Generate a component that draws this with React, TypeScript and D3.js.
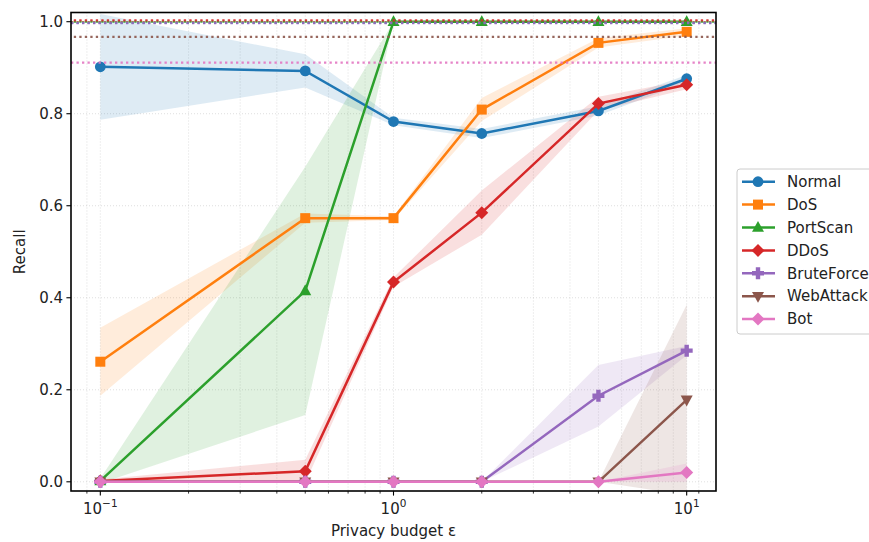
import React from "react";
import * as d3 from "d3";

const epsilons = [0.1, 0.5, 1, 2, 5, 10];
const classNames = ["Normal", "DoS", "PortScan", "DDoS", "BruteForce", "WebAttack", "Bot"];
const colors = ["#1f77b4", "#ff7f0e", "#2ca02c", "#d62728", "#9467bd", "#8c564b", "#e377c2"];
const markers = ["circle", "square", "triangle", "diamond", "plus", "triangleDown", "diamond"];

const normalMean = [0.902, 0.893, 0.783, 0.757, 0.806, 0.876];
const normalStd = [0.115, 0.036, 0.008, 0.01, 0.01, 0.008];
const dosMean = [0.261, 0.573, 0.573, 0.809, 0.954, 0.978];
const dosStd = [0.074, 0.01, 0.004, 0.025, 0.01, 0.008];
const portScanMean = [0.002, 0.415, 1.0, 1.0, 1.0, 1.0];
const portScanStd = [0.005, 0.27, 0.0, 0.0, 0.0, 0.0];
const ddosMean = [0.002, 0.023, 0.434, 0.585, 0.822, 0.863];
const ddosStd = [0.003, 0.025, 0.01, 0.048, 0.015, 0.01];
const bruteMean = [0.0, 0.0, 0.0, 0.0, 0.187, 0.285];
const bruteStd = [0.0, 0.0, 0.0, 0.0, 0.067, 0.01];
const webMean = [0.0, 0.0, 0.0, 0.0, 0.0, 0.178];
const webStd = [0.0, 0.0, 0.0, 0.0, 0.0, 0.207];
const botMean = [0.0, 0.0, 0.0, 0.0, 0.0, 0.02];
const botStd = [0.0, 0.0, 0.0, 0.0, 0.0, 0.02];

const baselines = [0.998, 0.999, 1.0, 1.003, 0.997, 0.967, 0.911];
const baselineOrder = [1, 2, 0, 3, 4, 5, 6];

const means = [normalMean, dosMean, portScanMean, ddosMean, bruteMean, webMean, botMean];
const stds = [normalStd, dosStd, portScanStd, ddosStd, bruteStd, webStd, botStd];

const yTicks = [0, 0.2, 0.4, 0.6, 0.8, 1.0];
const xMajor = [0.1, 1, 10];
const xMinor = [0.09, 0.2, 0.3, 0.4, 0.5, 0.6, 0.7, 0.8, 0.9, 2, 3, 4, 5, 6, 7, 8, 9, 11];

const W = 869, H = 542;
const L = 71, R = 716, T = 12.5, B = 491;
const FONT = "DejaVu Sans, sans-serif";
const FS = 15;
const LW = 2.5;

function Marker({ type, x, y, color }: { type: string; x: number; y: number; color: string }) {
  switch (type) {
    case "circle":
      return <circle cx={x} cy={y} r={5.4} fill={color} />;
    case "square":
      return <rect x={x - 5} y={y - 5} width={10} height={10} fill={color} />;
    case "triangle":
      return <path d={`M${x},${y - 6.5} L${x + 6},${y + 4.3} L${x - 6},${y + 4.3} Z`} fill={color} />;
    case "triangleDown":
      return <path d={`M${x},${y + 6.5} L${x + 6},${y - 4.3} L${x - 6},${y - 4.3} Z`} fill={color} />;
    case "diamond":
      return <path d={`M${x},${y - 6.5} L${x + 6.5},${y} L${x},${y + 6.5} L${x - 6.5},${y} Z`} fill={color} />;
    case "plus": {
      const a = 6, b = 2.2;
      return (
        <path
          d={`M${x - b},${y - a} H${x + b} V${y - b} H${x + a} V${y + b} H${x + b} V${y + a} H${x - b} V${y + b} H${x - a} V${y - b} H${x - b} Z`}
          fill={color}
        />
      );
    }
  }
  return null;
}

function expLabel(t: number): string {
  const e = Math.round(Math.log10(t));
  return e < 0 ? "\u2212" + Math.abs(e) : String(e);
}

export default function App() {
  const x = d3.scaleLog().domain([Math.pow(10, -1.1), Math.pow(10, 1.1)]).range([L, R]);
  const y = d3.scaleLinear().domain([-0.02, 1.02]).range([B, T]);

  const line = d3.line<[number, number]>().x((d) => x(d[0])).y((d) => y(d[1]));
  const area = d3
    .area<[number, number, number]>()
    .x((d) => x(d[0]))
    .y0((d) => y(d[1] - d[2]))
    .y1((d) => y(d[1] + d[2]));

  const legendX = 737, legendY = 169;
  const rowH = 22.9;
  const minorIn = xMinor.filter((v) => x(v) > L && x(v) < R);

  return (
    <svg width={W} height={H} style={{ position: "absolute", left: 0, top: 0 }} fontFamily={FONT}>
      <defs>
        <clipPath id="plotclip">
          <rect x={L} y={T} width={R - L} height={B - T} />
        </clipPath>
      </defs>
      <rect x={0} y={0} width={W} height={H} fill="white" />
      <g stroke="#b0b0b0" strokeOpacity={0.5} strokeWidth={0.8} strokeDasharray="1 2">
        {yTicks.map((t) => (
          <line key={"gy" + t} x1={L} x2={R} y1={y(t)} y2={y(t)} />
        ))}
        {xMajor.concat(minorIn).map((t) => (
          <line key={"gx" + t} x1={x(t)} x2={x(t)} y1={T} y2={B} />
        ))}
      </g>
      <g clipPath="url(#plotclip)">
        {classNames.map((c, i) => {
          const pts: [number, number, number][] = epsilons.map((e, j) => [e, means[i][j], stds[i][j]]);
          return <path key={"a" + c} d={area(pts) || ""} fill={colors[i]} fillOpacity={0.15} stroke="none" />;
        })}
        {classNames.map((c, i) => {
          const pts: [number, number][] = epsilons.map((e, j) => [e, means[i][j]]);
          return (
            <g key={"l" + c}>
              <path d={line(pts) || ""} fill="none" stroke={colors[i]} strokeWidth={LW} />
              {pts.map((p, j) => (
                <Marker key={j} type={markers[i]} x={x(p[0])} y={y(p[1])} color={colors[i]} />
              ))}
            </g>
          );
        })}
        {baselineOrder.map((i, k) => (
          <line
            key={"h" + i}
            x1={L}
            x2={R}
            y1={y(baselines[i])}
            y2={y(baselines[i])}
            stroke={colors[i]}
            strokeOpacity={0.9}
            strokeWidth={2.2}
            strokeDasharray="2.3 3.2"
            strokeDashoffset={k % 2 === 0 ? 0 : 2.7}
          />
        ))}
      </g>
      <rect x={L} y={T} width={R - L} height={B - T} fill="none" stroke="black" strokeWidth={1.6} />
      {yTicks.map((t) => (
        <g key={"yt" + t}>
          <line x1={L - 4.6} x2={L} y1={y(t)} y2={y(t)} stroke="black" strokeWidth={1.1} />
          <text x={L - 8} y={y(t)} dy="0.35em" textAnchor="end" fontSize={FS} fill="#222">
            {t.toFixed(1)}
          </text>
        </g>
      ))}
      {xMajor.map((t) => (
        <g key={"xt" + t}>
          <line x1={x(t)} x2={x(t)} y1={B} y2={B + 4.6} stroke="black" strokeWidth={1.1} />
          <text x={x(t)} y={B + 23} textAnchor="middle" fontSize={FS} fill="#222">
            10
            <tspan dy={-7} fontSize={10.5}>
              {expLabel(t)}
            </tspan>
          </text>
        </g>
      ))}
      {minorIn.map((t) => (
        <line key={"xm" + t} x1={x(t)} x2={x(t)} y1={B} y2={B + 2.6} stroke="black" strokeWidth={0.8} />
      ))}
      <text x={(L + R) / 2} y={536} textAnchor="middle" fontSize={FS} fill="#222">
        Privacy budget ε
      </text>
      <text transform={`translate(25,${(T + B) / 2}) rotate(-90)`} textAnchor="middle" fontSize={FS} fill="#222">
        Recall
      </text>
      <rect
        x={legendX}
        y={legendY}
        width={150}
        height={165}
        rx={3}
        fill="white"
        fillOpacity={0.8}
        stroke="#cccccc"
        strokeWidth={1}
      />
      {classNames.map((c, i) => {
        const cy = legendY + 12.7 + i * rowH;
        return (
          <g key={"lg" + c}>
            <line x1={742} x2={775} y1={cy} y2={cy} stroke={colors[i]} strokeWidth={LW} />
            <Marker type={markers[i]} x={758} y={cy} color={colors[i]} />
            <text x={787} y={cy} dy="0.35em" fontSize={FS} fill="#222">
              {c}
            </text>
          </g>
        );
      })}
    </svg>
  );
}
